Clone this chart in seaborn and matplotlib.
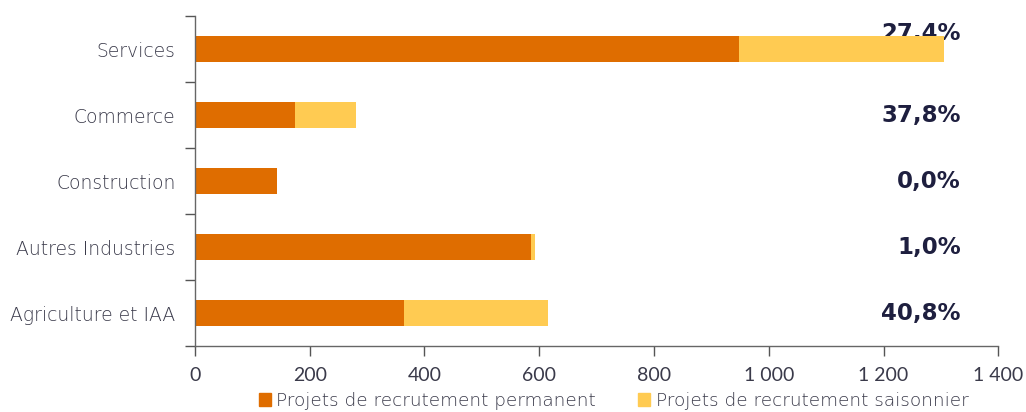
import numpy as np
import pandas as pd
import seaborn as sns
import matplotlib.pyplot as plt
from matplotlib.ticker import FuncFormatter
from matplotlib.patches import Patch

# data
secteurs = ["Services", "Commerce", "Construction", "Autres Industries", "Agriculture et IAA"]
permanent = [948, 174, 143, 586, 364]
saisonnier = [358, 106, 0, 6, 251]
part_saison = ["27,4%", "37,8%", "0,0%", "1,0%", "40,8%"]

col_perm = "#DF6D00"
col_saison = "#FFCB52"
col_txt = "#3A3A4A"

sns.set_theme(style="white")
plt.rcParams["font.family"] = ["DejaVu Sans"]

df = pd.DataFrame({"secteur": secteurs, "permanent": permanent, "saisonnier": saisonnier})
df["total"] = df["permanent"] + df["saisonnier"]

fig = plt.figure(figsize=(10.26, 4.12), dpi=100)
ax = fig.add_axes([0.190, 0.160, 0.783, 0.801])

# labels behind the bars (the top one is partly hidden in the original)
label_offset = [-0.24, 0, 0, 0, 0]
for i, txt in enumerate(part_saison):
    ax.text(1335, i + label_offset[i], txt, ha="right", va="center", fontsize=16.5,
            fontweight="bold", color="#1E1F3F", family="DejaVu Sans", zorder=0)

sns.barplot(data=df, y="secteur", x="total", color=col_saison, width=0.4,
            saturation=1, linewidth=0, ax=ax, zorder=2)
sns.barplot(data=df, y="secteur", x="permanent", color=col_perm, width=0.4,
            saturation=1, linewidth=0, ax=ax, zorder=3)

ax.set_xlim(0, 1400)
ax.set_ylim(4.5, -0.5)
ax.set_xlabel("")
ax.set_ylabel("")
ax.set_xticks(np.arange(0, 1401, 200))
ax.xaxis.set_major_formatter(FuncFormatter(lambda v, p: f"{int(v):,}".replace(",", " ")))

# y ticks between categories
ax.set_yticks(np.arange(-0.5, 4.6, 1), minor=True)
ax.tick_params(axis="y", which="major", left=False, length=0, labelsize=13.5,
               labelcolor=col_txt, pad=14)
ax.tick_params(axis="y", which="minor", left=True, length=7, width=1, color="#555555",
               direction="out")
ax.tick_params(axis="x", bottom=True, length=7, width=1, color="#555555", direction="out",
               labelsize=14, labelcolor=col_txt, pad=8)
for lab in ax.get_yticklabels():
    lab.set_fontweight("light")
for lab in ax.get_xticklabels():
    lab.set_family(["Lato", "DejaVu Sans"])

sns.despine(ax=ax, top=True, right=True)
for s in ["left", "bottom"]:
    ax.spines[s].set_color("#666666")
    ax.spines[s].set_linewidth(1)
ax.spines["left"].set_zorder(5)

handles = [Patch(color=col_perm, label="Projets de recrutement permanent"),
           Patch(color=col_saison, label="Projets de recrutement saisonnier")]
fig.legend(handles=handles, loc="lower center", bbox_to_anchor=(0.598, -0.035), ncol=2,
           frameon=False, prop={"size": 13.25, "weight": "light"}, handlelength=0.65,
           handleheight=0.65, handletextpad=0.3, columnspacing=2.3, labelcolor=col_txt)

fig.savefig("out.png", dpi=100)
